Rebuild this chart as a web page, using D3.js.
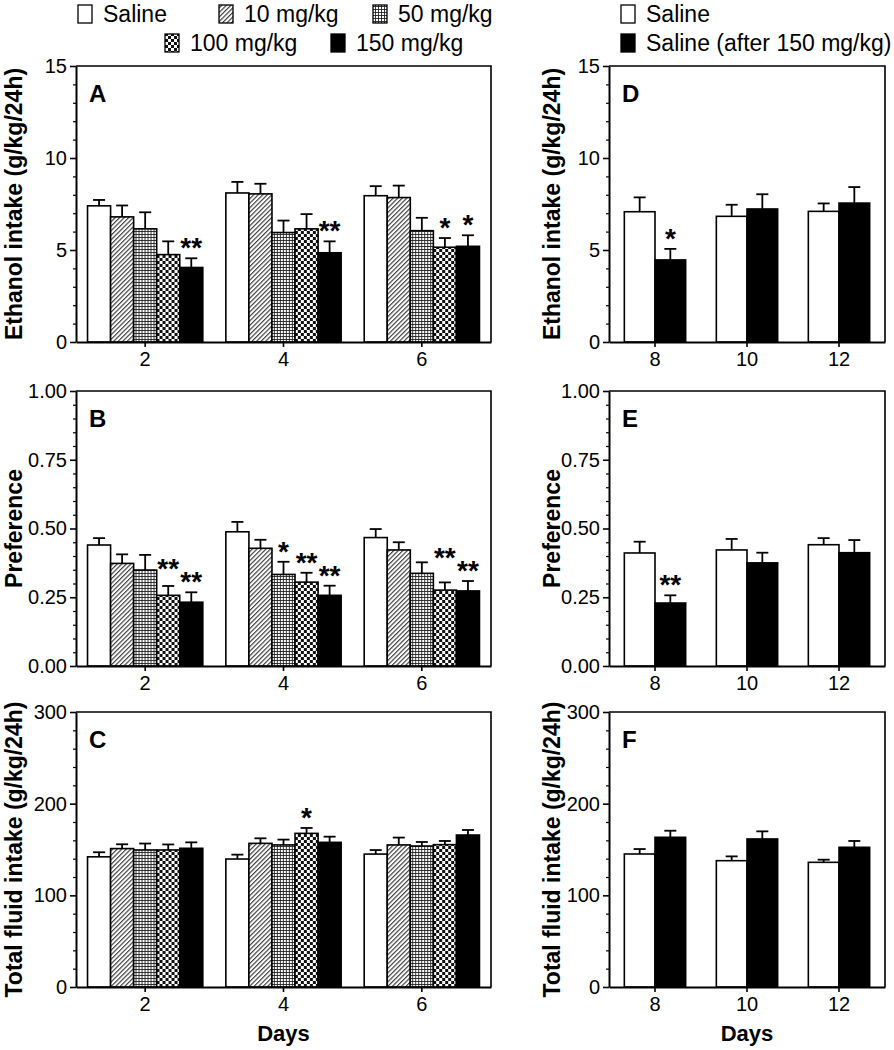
<!DOCTYPE html>
<html><head><meta charset="utf-8">
<script src="https://cdn.jsdelivr.net/npm/d3@7"></script>
<style>body{margin:0;background:#fff;} svg{display:block;font-family:"Liberation Sans",Arial,Helvetica,sans-serif;}</style>
</head><body>
<svg id="c" width="894" height="1050"></svg>
<script>
// ---------- data ----------
const daysLeft = ["2", "4", "6"];
const daysRight = ["8", "10", "12"];
const groupsLeft = ["Saline", "10 mg/kg", "50 mg/kg", "100 mg/kg", "150 mg/kg"];
const groupsRight = ["Saline", "Saline (after 150 mg/kg)"];

// values indexed [day][group]
const ethanolMeanL = [[7.4, 6.8, 6.15, 4.75, 4.05], [8.1, 8.05, 5.95, 6.15, 4.85], [7.95, 7.85, 6.05, 5.15, 5.2]];
const ethanolSemL  = [[0.32, 0.62, 0.9, 0.72, 0.5], [0.6, 0.55, 0.65, 0.8, 0.62], [0.52, 0.65, 0.7, 0.5, 0.6]];
const ethanolStarL = [["", "", "", "", "**"], ["", "", "", "", "**"], ["", "", "", "*", "*"]];

const prefMeanL = [[0.44, 0.373, 0.349, 0.257, 0.232], [0.488, 0.428, 0.333, 0.305, 0.257], [0.467, 0.422, 0.337, 0.276, 0.273]];
const prefSemL  = [[0.025, 0.033, 0.055, 0.034, 0.036], [0.036, 0.031, 0.046, 0.034, 0.035], [0.031, 0.028, 0.04, 0.028, 0.036]];
const prefStarL = [["", "", "", "**", "**"], ["", "", "*", "**", "**"], ["", "", "", "**", "**"]];

const fluidMeanL = [[142, 151, 149.5, 149.5, 151.3], [139.6, 156.7, 155, 167.6, 157.8], [145, 155, 153.8, 155.3, 165.8]];
const fluidSemL  = [[5, 4.7, 7, 6, 6.5], [4.8, 5.5, 5.8, 5.9, 6.2], [4.4, 8, 4.4, 4, 5.5]];
const fluidStarL = [["", "", "", "", ""], ["", "", "", "*", ""], ["", "", "", "", ""]];

const ethanolMeanR = [[7.08, 4.46], [6.83, 7.23], [7.1, 7.55]];
const ethanolSemR  = [[0.78, 0.6], [0.63, 0.8], [0.43, 0.87]];
const ethanolStarR = [["", "*"], ["", ""], ["", ""]];

const prefMeanR = [[0.411, 0.229], [0.422, 0.375], [0.441, 0.412]];
const prefSemR  = [[0.041, 0.028], [0.04, 0.037], [0.024, 0.046]];
const prefStarR = [["", "**"], ["", ""], ["", ""]];

const fluidMeanR = [[145.1, 163.3], [137.8, 161.5], [136, 152.4]];
const fluidSemR  = [[5.4, 7.2], [4.7, 8.3], [2.9, 6.9]];
const fluidStarR = [["", ""], ["", ""], ["", ""]];

const ethanolTicks = [0, 5, 10, 15];
const prefTicks = [0, 0.25, 0.5, 0.75, 1.0];
const fluidTicks = [0, 100, 200, 300];

const titleEthanol = "Ethanol intake (g/kg/24h)";
const titlePref = "Preference";
const titleFluid = "Total fluid intake (g/kg/24h)";
const xTitle = "Days";

// ---------- styles ----------
const fillsLeft = ["#fff", "url(#hatch)", "url(#grid)", "url(#checker)", "#000"];
const fillsRight = ["#fff", "#000"];

const svg = d3.select("#c");
const defs = svg.append("defs");
// diagonal hatch
const ph = defs.append("pattern").attr("id", "hatch").attr("patternUnits", "userSpaceOnUse")
  .attr("width", 3.2).attr("height", 3.2).attr("patternTransform", "rotate(45)");
ph.append("rect").attr("width", 3.2).attr("height", 3.2).attr("fill", "#fff");
ph.append("line").attr("x1", 0.6).attr("y1", 0).attr("x2", 0.6).attr("y2", 3.2).attr("stroke", "#333").attr("stroke-width", 1.1);
// grid
const pg = defs.append("pattern").attr("id", "grid").attr("patternUnits", "userSpaceOnUse")
  .attr("width", 3).attr("height", 3);
pg.append("rect").attr("width", 3).attr("height", 3).attr("fill", "#fff");
pg.append("path").attr("d", "M0,0.5H3M0.5,0V3").attr("stroke", "#222").attr("stroke-width", 0.9);
// checker
const pc = defs.append("pattern").attr("id", "checker").attr("patternUnits", "userSpaceOnUse")
  .attr("width", 6).attr("height", 6);
pc.append("rect").attr("width", 6).attr("height", 6).attr("fill", "#fff");
pc.append("rect").attr("width", 3).attr("height", 3).attr("fill", "#111");
pc.append("rect").attr("x", 3).attr("y", 3).attr("width", 3).attr("height", 3).attr("fill", "#111");

// ---------- panels ----------
function drawPanel(o) {
  const g = svg.append("g");
  const x0 = d3.scaleBand().domain(o.days).range([o.L, o.R]).paddingInner(o.pi).paddingOuter(o.po);
  const x1 = d3.scaleBand().domain(o.groups).range([0, x0.bandwidth()]);
  const y = d3.scaleLinear().domain([0, o.ticks[o.ticks.length - 1]]).range([o.B, o.T]);

  // frame top/right
  g.append("path").attr("d", `M${o.L},${o.T}H${o.R}V${o.B}`).attr("fill", "none")
    .attr("stroke", "#000").attr("stroke-width", 1.6);

  // bars
  o.days.forEach((d, di) => {
    const gd = g.append("g").attr("transform", `translate(${x0(d)},0)`);
    o.groups.forEach((gr, gi) => {
      const m = o.mean[di][gi], s = o.sem[di][gi];
      const bx = x1(gr), bw = x1.bandwidth();
      gd.append("rect").attr("x", bx).attr("y", y(m)).attr("width", bw).attr("height", y(0) - y(m))
        .attr("fill", o.fills[gi]).attr("stroke", "#000").attr("stroke-width", 1.6);
      const cx = bx + bw / 2;
      gd.append("line").attr("x1", cx).attr("x2", cx).attr("y1", y(m)).attr("y2", y(m + s))
        .attr("stroke", "#000").attr("stroke-width", 1.8);
      gd.append("line").attr("x1", cx - 6).attr("x2", cx + 6).attr("y1", y(m + s)).attr("y2", y(m + s))
        .attr("stroke", "#000").attr("stroke-width", 1.8);
    });
    // stars
    const pos = o.groups.map((gr, gi) => y(o.mean[di][gi] + o.sem[di][gi]));
    for (let gi = o.groups.length - 2; gi >= 0; gi--) {
      const s = o.stars[di][gi], sn = o.stars[di][gi + 1];
      if (s === "**" && sn === "**" && Math.abs(pos[gi] - pos[gi + 1]) < 12) pos[gi] = pos[gi + 1] - 13;
    }
    o.groups.forEach((gr, gi) => {
      const s = o.stars[di][gi];
      if (!s) return;
      gd.append("text").attr("x", x1(gr) + x1.bandwidth() / 2).attr("y", pos[gi] - 1)
        .attr("text-anchor", "middle").attr("font-size", 28).attr("font-weight", "bold").text(s);
    });
  });

  // y axis
  const minor = d3.range(0, o.ticks[o.ticks.length - 1] + 1e-9, o.minor).filter(v => !o.ticks.some(t => Math.abs(t - v) < 1e-9));
  g.append("g").attr("transform", `translate(${o.L},0)`)
    .call(d3.axisLeft(y).tickValues(minor).tickSize(3).tickFormat(""))
    .call(a => a.select(".domain").remove())
    .call(a => a.selectAll("line").attr("stroke-width", 1.2));
  const ya = g.append("g").attr("transform", `translate(${o.L},0)`)
    .call(d3.axisLeft(y).tickValues(o.ticks).tickSize(6).tickSizeOuter(0).tickPadding(3).tickFormat(o.fmt));
  ya.select(".domain").attr("stroke-width", 2);
  ya.selectAll("line").attr("stroke-width", 1.6);
  ya.selectAll("text").attr("font-size", 20).attr("font-family", "Liberation Sans, Arial, sans-serif").attr("fill", "#000");

  // x axis
  const xa = g.append("g").attr("transform", `translate(0,${o.B})`)
    .call(d3.axisBottom(x0).tickSize(5).tickSizeOuter(0).tickPadding(5));
  xa.select(".domain").attr("stroke-width", 2);
  xa.selectAll("line").attr("stroke-width", 1.6);
  xa.selectAll("text").attr("font-size", 20).attr("font-family", "Liberation Sans, Arial, sans-serif").attr("fill", "#000");

  // y title
  g.append("text").attr("transform", `translate(${o.L - o.titleOff},${(o.T + o.B) / 2}) rotate(-90)`)
    .attr("text-anchor", "middle").attr("dominant-baseline", "central")
    .attr("font-size", 23).attr("font-weight", "bold").text(o.title);
  // letter
  g.append("text").attr("x", o.L + 13).attr("y", o.T + 36).attr("font-size", 24).attr("font-weight", "bold").text(o.letter);
  if (o.xTitle) {
    g.append("text").attr("x", (o.L + o.R) / 2).attr("y", o.B + 54).attr("text-anchor", "middle")
      .attr("font-size", 22).attr("font-weight", "bold").text(o.xTitle);
  }
}

const rows = [{T: 66, B: 342}, {T: 391, B: 666}, {T: 712, B: 987}];
const left = {L: 76, R: 491, days: daysLeft, groups: groupsLeft, fills: fillsLeft, pi: 1 / 6, po: 1 / 12, titleOff: 62};
const right = {L: 609, R: 885, days: daysRight, groups: groupsRight, fills: fillsRight, pi: 1 / 3, po: 1 / 6, titleOff: 57};

const fmtInt = d3.format("d"), fmt2 = d3.format(".2f");
drawPanel({...left, ...rows[0], letter: "A", mean: ethanolMeanL, sem: ethanolSemL, stars: ethanolStarL, ticks: ethanolTicks, minor: 1, fmt: fmtInt, title: titleEthanol});
drawPanel({...left, ...rows[1], letter: "B", mean: prefMeanL, sem: prefSemL, stars: prefStarL, ticks: prefTicks, minor: 0.05, fmt: fmt2, title: titlePref});
drawPanel({...left, ...rows[2], letter: "C", mean: fluidMeanL, sem: fluidSemL, stars: fluidStarL, ticks: fluidTicks, minor: 20, fmt: fmtInt, title: titleFluid, xTitle: xTitle});
drawPanel({...right, ...rows[0], letter: "D", mean: ethanolMeanR, sem: ethanolSemR, stars: ethanolStarR, ticks: ethanolTicks, minor: 1, fmt: fmtInt, title: titleEthanol});
drawPanel({...right, ...rows[1], letter: "E", mean: prefMeanR, sem: prefSemR, stars: prefStarR, ticks: prefTicks, minor: 0.05, fmt: fmt2, title: titlePref});
drawPanel({...right, ...rows[2], letter: "F", mean: fluidMeanR, sem: fluidSemR, stars: fluidStarR, ticks: fluidTicks, minor: 20, fmt: fmtInt, title: titleFluid, xTitle: xTitle});

// ---------- legends ----------
function legend(items, fills, xs, ys) {
  const lg = svg.append("g");
  items.forEach((t, i) => {
    lg.append("rect").attr("x", xs[i]).attr("y", ys[i] - 17).attr("width", 14).attr("height", 18)
      .attr("fill", fills[i]).attr("stroke", "#000").attr("stroke-width", 1.3);
    lg.append("text").attr("x", xs[i] + 25).attr("y", ys[i]).attr("font-size", 23).text(t);
  });
}
legend(groupsLeft, fillsLeft, [78, 219, 373, 165, 331], [22, 22, 22, 51, 51]);
legend(groupsRight, fillsRight, [621, 621], [22, 51]);
</script>
</body></html>
